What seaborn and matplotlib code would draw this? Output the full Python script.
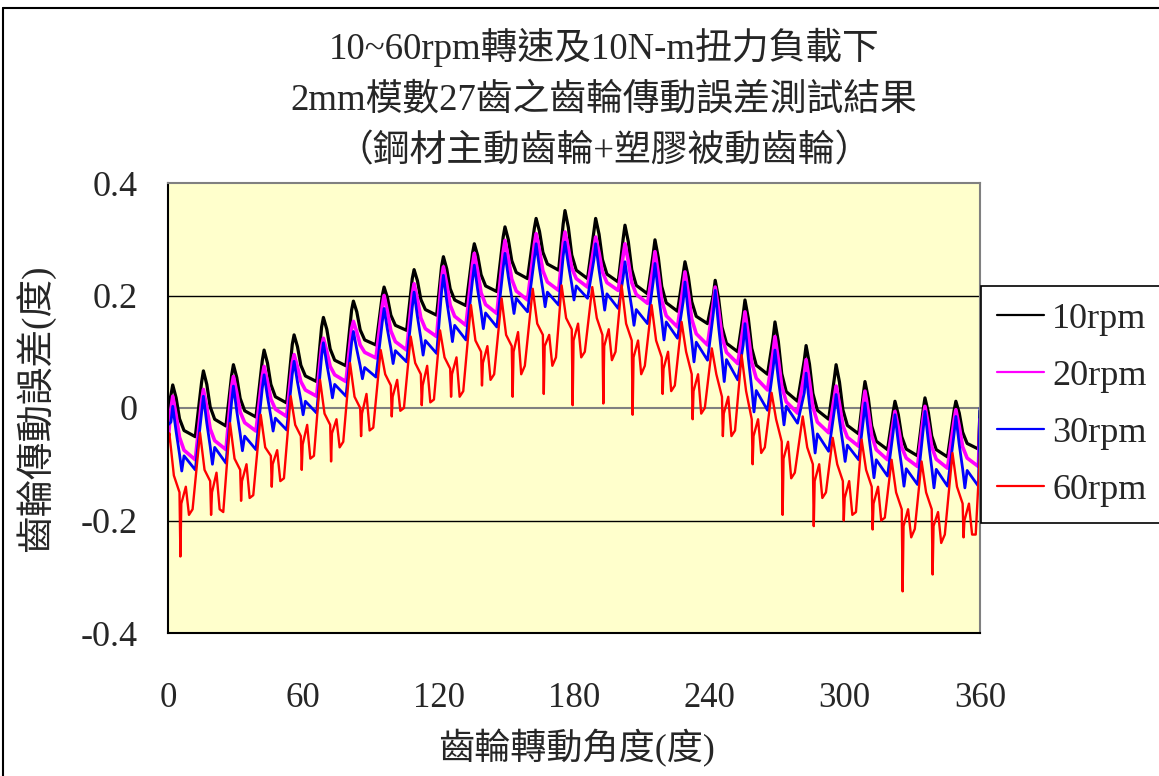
import numpy as np
import pandas as pd
import matplotlib
matplotlib.use("Agg")
import matplotlib.pyplot as plt
import seaborn as sns
from matplotlib.lines import Line2D

# ---------------- data ----------------
title_lines = ["10~60rpm轉速及10N-m扭力負載下",
               "2mm模數27齒之齒輪傳動誤差測試結果",
               "（鋼材主動齒輪+塑膠被動齒輪）"]
x_label = "齒輪轉動角度(度)"
y_label = "齒輪傳動誤差(度)"
series_names = ["10rpm", "20rpm", "30rpm", "60rpm"]
x_ticks = [0, 60, 120, 180, 240, 300, 360]
y_ticks = [-0.4, -0.2, 0.0, 0.2, 0.4]
y_tick_labels = ["-0.4", "-0.2", "0", "0.2", "0.4"]

# angle of each tooth-mesh peak (27 teeth)
tooth_angle = [2.1, 15.7, 29.0, 42.6, 55.9, 68.9, 82.2, 95.8, 109.1, 122.1,
               135.8, 149.4, 163.2, 176.0, 189.6, 202.6, 215.9, 229.2, 242.6,
               255.8, 269.1, 282.9, 296.2, 309.0, 322.3, 335.6, 349.3]

# ---- 10rpm ----
b_pre = [0.023, 0.046, 0.058, 0.084, 0.113, 0.144, 0.174, 0.200, 0.230, 0.252,
         0.275, 0.304, 0.319, 0.327, 0.314, 0.301, 0.274, 0.238, 0.202, 0.166,
         0.125, 0.085, 0.052, 0.023, -0.007, -0.003, -0.005]
b_peak = [0.041, 0.066, 0.077, 0.103, 0.130, 0.161, 0.190, 0.215, 0.246, 0.269,
          0.292, 0.322, 0.337, 0.351, 0.337, 0.325, 0.299, 0.260, 0.227, 0.192,
          0.153, 0.111, 0.077, 0.047, 0.012, 0.018, 0.012]
b_k1 = [0.018, 0.042, 0.054, 0.080, 0.109, 0.140, 0.171, 0.196, 0.226, 0.247,
        0.271, 0.299, 0.314, 0.321, 0.309, 0.295, 0.267, 0.233, 0.195, 0.159,
        0.118, 0.078, 0.046, 0.017, -0.012, -0.008, -0.009]
b_k2 = [-0.019, 0.002, 0.017, 0.042, 0.076, 0.105, 0.139, 0.165, 0.193, 0.212,
        0.237, 0.262, 0.277, 0.272, 0.264, 0.246, 0.216, 0.189, 0.144, 0.106,
        0.061, 0.026, -0.003, -0.032, -0.051, -0.050, -0.043]
b_k3 = [-0.040, -0.020, -0.005, 0.020, 0.057, 0.085, 0.121, 0.147, 0.175, 0.192,
        0.217, 0.241, 0.256, 0.245, 0.238, 0.218, 0.187, 0.163, 0.115, 0.076,
        0.029, -0.004, -0.031, -0.059, -0.073, -0.074, -0.063]
b_trough = [-0.051, -0.032, -0.016, 0.009, 0.047, 0.075, 0.112, 0.138, 0.165, 0.182,
            0.207, 0.230, 0.245, 0.230, 0.224, 0.203, 0.172, 0.150, 0.100, 0.060,
            0.012, -0.020, -0.046, -0.074, -0.085, -0.087, -0.073]
b_ends = [0.000, -0.005]

# ---- 20rpm ----
m_pre = [-0.002, 0.012, 0.037, 0.056, 0.080, 0.109, 0.141, 0.181, 0.202, 0.230,
         0.254, 0.277, 0.290, 0.293, 0.285, 0.271, 0.251, 0.216, 0.188, 0.143,
         0.100, 0.060, 0.018, 0.006, -0.026, -0.019, -0.023]
m_peak = [0.021, 0.033, 0.056, 0.074, 0.095, 0.124, 0.154, 0.200, 0.221, 0.251,
          0.275, 0.298, 0.310, 0.313, 0.304, 0.292, 0.278, 0.242, 0.215, 0.171,
          0.127, 0.086, 0.039, 0.030, -0.006, 0.003, -0.003]
m_k1 = [-0.013, 0.001, 0.027, 0.047, 0.073, 0.101, 0.135, 0.171, 0.193, 0.220,
        0.243, 0.266, 0.280, 0.284, 0.276, 0.260, 0.238, 0.203, 0.174, 0.129,
        0.086, 0.047, 0.007, -0.007, -0.035, -0.030, -0.033]
m_k2 = [-0.052, -0.037, -0.007, 0.016, 0.047, 0.074, 0.112, 0.137, 0.160, 0.183,
        0.205, 0.229, 0.244, 0.249, 0.242, 0.223, 0.191, 0.158, 0.127, 0.081,
        0.039, 0.002, -0.031, -0.049, -0.070, -0.069, -0.069]
m_k3 = [-0.075, -0.058, -0.026, -0.002, 0.032, 0.059, 0.099, 0.118, 0.141, 0.163,
        0.184, 0.208, 0.224, 0.230, 0.223, 0.202, 0.164, 0.132, 0.099, 0.053,
        0.011, -0.025, -0.052, -0.074, -0.089, -0.091, -0.089]
m_trough = [-0.092, -0.074, -0.041, -0.015, 0.021, 0.047, 0.089, 0.103, 0.127, 0.147,
            0.168, 0.192, 0.209, 0.215, 0.209, 0.186, 0.144, 0.112, 0.079, 0.032,
            -0.009, -0.044, -0.068, -0.092, -0.104, -0.107, -0.104]
m_ends = [-0.060, -0.020]

# ---- 30rpm ----
u_pre = [-0.025, -0.009, 0.011, 0.035, 0.060, 0.092, 0.116, 0.153, 0.179, 0.207,
         0.227, 0.249, 0.265, 0.270, 0.263, 0.233, 0.224, 0.189, 0.169, 0.112,
         0.071, 0.027, -0.005, -0.024, -0.043, -0.039, -0.046]
u_peak = [0.003, 0.021, 0.039, 0.059, 0.083, 0.116, 0.136, 0.177, 0.206, 0.236,
          0.254, 0.275, 0.292, 0.295, 0.292, 0.260, 0.257, 0.224, 0.209, 0.150,
          0.103, 0.062, 0.024, 0.009, -0.012, -0.006, -0.015]
u_k1 = [-0.042, -0.027, -0.006, 0.020, 0.046, 0.078, 0.104, 0.139, 0.162, 0.190,
        0.210, 0.233, 0.248, 0.255, 0.246, 0.216, 0.204, 0.168, 0.145, 0.088,
        0.051, 0.006, -0.022, -0.043, -0.062, -0.059, -0.065]
u_k2 = [-0.082, -0.068, -0.046, -0.015, 0.014, 0.045, 0.075, 0.106, 0.124, 0.150,
        0.172, 0.197, 0.210, 0.220, 0.206, 0.178, 0.157, 0.120, 0.090, 0.035,
        0.006, -0.042, -0.063, -0.089, -0.105, -0.106, -0.108]
u_dip = [-0.112, -0.100, -0.076, -0.041, -0.012, 0.018, 0.052, 0.079, 0.094, 0.118,
         0.141, 0.168, 0.180, 0.192, 0.174, 0.147, 0.121, 0.082, 0.047, -0.007,
         -0.030, -0.080, -0.095, -0.124, -0.139, -0.142, -0.142]
u_bump = [-0.085, -0.070, -0.050, -0.018, 0.012, 0.042, 0.072, 0.102, 0.120, 0.147,
          0.169, 0.195, 0.206, 0.217, 0.203, 0.175, 0.153, 0.117, 0.086, 0.031,
          0.003, -0.046, -0.066, -0.092, -0.108, -0.109, -0.111]
u_trough = [-0.110, -0.098, -0.074, -0.039, -0.009, 0.021, 0.055, 0.082, 0.097, 0.121,
            0.144, 0.171, 0.183, 0.195, 0.177, 0.150, 0.124, 0.085, 0.050, -0.004,
            -0.027, -0.077, -0.092, -0.121, -0.136, -0.139, -0.139]
u_ends = [-0.030, 0.000]

# ---- 60rpm ----
r_peak = [-0.045, -0.044, -0.027, -0.012, 0.021, 0.050, 0.080, 0.103, 0.127, 0.138,
          0.183, 0.195, 0.212, 0.218, 0.215, 0.218, 0.183, 0.153, 0.106, 0.094,
          0.027, -0.015, -0.053, -0.056, -0.092, -0.095, -0.080]
r_knee = [-0.12, -0.11, -0.09, -0.07, -0.03, -0.01, 0.02, 0.06, 0.08, 0.09,
          0.12, 0.13, 0.15, 0.16, 0.16, 0.15, 0.12, 0.10, 0.06, 0.03,
          -0.02, -0.07, -0.10, -0.11, -0.15, -0.15, -0.14]
r_mid = [-0.15, -0.13, -0.11, -0.085, -0.05, -0.03, 0.00, 0.04, 0.06, 0.07,
         0.10, 0.11, 0.13, 0.14, 0.13, 0.12, 0.09, 0.06, 0.02, -0.02,
         -0.06, -0.10, -0.13, -0.14, -0.18, -0.18, -0.17]
r_spike = [-0.264, -0.19, -0.165, -0.14, -0.110, -0.095, -0.05, -0.015, 0.005, 0.02,
           0.04, 0.02, 0.025, 0.005, 0.008, -0.012, 0.025, -0.02, -0.05, -0.10,
           -0.19, -0.210, -0.20, -0.216, -0.326, -0.296, -0.23]
r_level = [-0.17, -0.15, -0.13, -0.10, -0.065, -0.045, -0.01, 0.02, 0.04, 0.06,
           0.08, 0.10, 0.11, 0.12, 0.11, 0.09, 0.07, 0.03, -0.01, -0.05,
           -0.09, -0.13, -0.16, -0.17, -0.21, -0.21, -0.20]
r_bump = [-0.14, -0.115, -0.10, -0.075, -0.03, -0.02, 0.025, 0.05, 0.075, 0.09,
          0.11, 0.135, 0.13, 0.15, 0.14, 0.12, 0.10, 0.06, 0.02, -0.02,
          -0.06, -0.10, -0.13, -0.14, -0.18, -0.185, -0.17]
r_dip2 = [-0.19, -0.18, -0.16, -0.13, -0.09, -0.07, -0.04, -0.005, 0.01, 0.02,
          0.05, 0.06, 0.075, 0.09, 0.085, 0.06, 0.03, -0.01, -0.05, -0.08,
          -0.125, -0.16, -0.19, -0.20, -0.23, -0.24, -0.225]
r_trough = [-0.18, -0.185, -0.155, -0.125, -0.085, -0.06, -0.035, 0.0, 0.015, 0.03,
            0.06, 0.075, 0.09, 0.10, 0.10, 0.075, 0.04, 0.0, -0.04, -0.07,
            -0.115, -0.15, -0.185, -0.195, -0.215, -0.225, -0.225]
r_ends = [-0.060, -0.078]


def build(name, ends, offsets, cols):
    xs, ys = [0.0], [ends[0]]
    for i, p in enumerate(tooth_angle):
        for off, col in zip(offsets, cols):
            xs.append(p + off)
            ys.append(col[i])
    xs.append(360.0)
    ys.append(ends[1])
    return pd.DataFrame({"angle": xs, "error": ys, "series": name})


frames = [
    build("10rpm", b_ends, [-0.8, 0, 1.5, 3.0, 5.0, 10.0],
          [b_pre, b_peak, b_k1, b_k2, b_k3, b_trough]),
    build("20rpm", m_ends, [-0.8, 0, 1.5, 3.0, 5.0, 10.0],
          [m_pre, m_peak, m_k1, m_k2, m_k3, m_trough]),
    build("30rpm", u_ends, [-0.8, 0, 1.5, 3.0, 4.0, 5.0, 10.0],
          [u_pre, u_peak, u_k1, u_k2, u_dip, u_bump, u_trough]),
    build("60rpm", r_ends, [-1.5, 0.5, 3.0, 3.4, 3.8, 5.8, 7.2, 8.8],
          [r_peak, r_knee, r_mid, r_spike, r_level, r_bump, r_dip2, r_trough]),
]
df = pd.concat(frames, ignore_index=True)

colors = {"10rpm": "#000000", "20rpm": "#FF00FF", "30rpm": "#0000FF", "60rpm": "#FF0000"}
widths = {"10rpm": 2.3, "20rpm": 2.6, "30rpm": 2.0, "60rpm": 1.7}

# ---------------- figure ----------------
sns.set_style("white")
plt.rcParams["font.family"] = ["Liberation Serif", "Noto Sans CJK TC", "DejaVu Sans"]
plt.rcParams["axes.unicode_minus"] = False

W, H = 1159, 776
fig = plt.figure(figsize=(W / 100, H / 100), dpi=100)
ax = fig.add_axes([168 / W, 1 - 633 / H, (980 - 168) / W, (633 - 183) / H])
ax.set_facecolor("#FFFFCC")

for name in series_names:
    sub = df[df["series"] == name]
    sns.lineplot(data=sub, x="angle", y="error", ax=ax, color=colors[name],
                 lw=widths[name], estimator=None, sort=False, legend=False)

ax.set_xlim(0, 360)
ax.set_ylim(-0.4, 0.4)
ax.set_xticks(x_ticks)
ax.set_xticklabels([str(t) for t in x_ticks])
ax.set_yticks(y_ticks)
ax.set_yticklabels(y_tick_labels)
ax.tick_params(axis="x", direction="in", length=8, width=1, pad=35, labelsize=25)
ax.tick_params(axis="y", length=0, pad=22, labelsize=26)
ax.set_xlabel("")
ax.set_ylabel("")

for y in (0.2, -0.2):
    ax.axhline(y, color="black", lw=1.0, zorder=0.5)
ax.axhline(0.0, color="#808080", lw=1.5, zorder=0.5)

for s in ("left", "bottom"):
    ax.spines[s].set_color("black")
    ax.spines[s].set_linewidth(1.5)
for s in ("top", "right"):
    ax.spines[s].set_color("#808080")
    ax.spines[s].set_linewidth(1.5)

# titles
for txt, yc in zip(title_lines, (47, 100, 152)):
    fig.text(604 / W, 1 - yc / H, txt, ha="center", va="center", fontsize=26.5)
fig.text(576 / W, 1 - 748 / H, x_label, ha="center", va="center", fontsize=26)
fig.text(35 / W, 1 - 408 / H, y_label, ha="center", va="center", fontsize=27, rotation=90)

# legend
handles = [Line2D([0], [0], color=colors[n], lw=1.6) for n in series_names]
leg = ax.legend(handles, series_names, loc="upper left",
                bbox_to_anchor=(981 / W, 1 - 286 / H), bbox_transform=fig.transFigure,
                frameon=True, fancybox=False, edgecolor="black", facecolor="white",
                framealpha=1, borderaxespad=0, fontsize=26, handlelength=1.3,
                handletextpad=0.22, labelspacing=0.66, borderpad=0.45)
leg.get_frame().set_linewidth(1.2)
leg.set_clip_on(False)

# outer border
fig.add_artist(Line2D([3 / W, 1], [1 - 8 / H, 1 - 8 / H], transform=fig.transFigure,
                      color="black", lw=1.5))
fig.add_artist(Line2D([3 / W, 3 / W], [0, 1 - 8 / H], transform=fig.transFigure,
                      color="black", lw=1.5))

fig.savefig("out.png", dpi=100)
